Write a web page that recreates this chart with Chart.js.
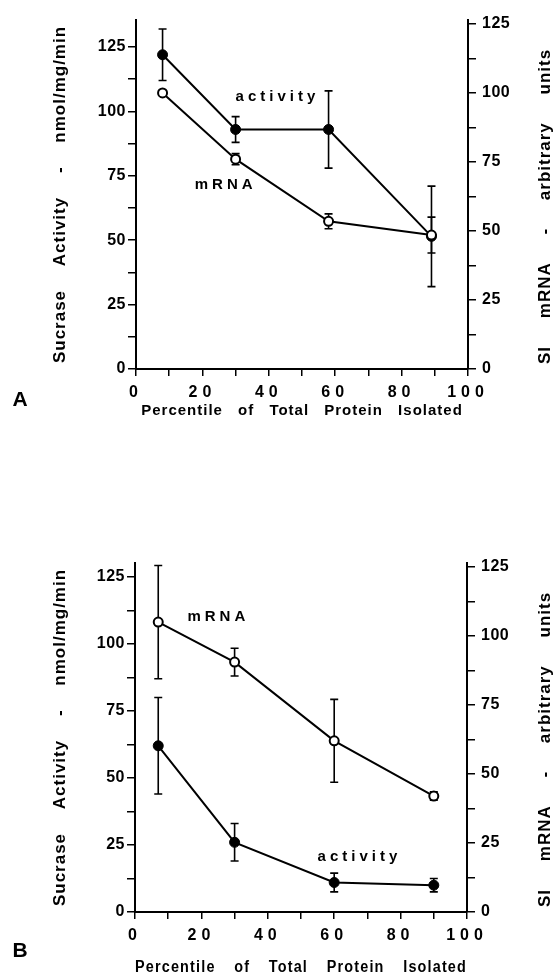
<!DOCTYPE html>
<html>
<head>
<meta charset="utf-8">
<script src="https://cdn.jsdelivr.net/npm/chart.js@4.4.1/dist/chart.umd.min.js"></script>
<style>
  html, body { margin: 0; padding: 0; background: #fff; }
  body { width: 558px; height: 979px; position: relative; overflow: hidden; }
  .panel { position: absolute; left: 0; width: 558px; }
  #panelA { top: 0; height: 440px; }
  #panelB { top: 490px; height: 489px; }
</style>
</head>
<body>
<div class="panel" id="panelA"><canvas id="chartA" width="558" height="440"></canvas></div>
<div class="panel" id="panelB"><canvas id="chartB" width="558" height="489"></canvas></div>
<script>
// Panel A values
const percentileA = [8, 30, 58, 89];
const activityA = [122, 93, 93, 51.5];
const activityErrA = [10, 5, 15, 19.5];
const mrnaA = [100, 76, 53.5, 48.5];
const mrnaErrA = [0, 2, 2.7, 6.5];

// Panel B values
const percentileB = [7, 30, 60, 90];
const activityB = [62, 26, 11, 10];
const activityErrB = [18, 7, 3.5, 2.5];
const mrnaB = [105, 90.5, 62, 42];
const mrnaErrB = [20.5, 5, 15, 1.5];

// tick labels (minor ticks between them are unlabeled)
const xTickLabels = [0, 20, 40, 60, 80, 100];
const yTickLabels = [0, 25, 50, 75, 100, 125];

const FONT = '"Liberation Sans", Arial, sans-serif';

// draw vertical error bars behind the points
const errorBars = {
  id: 'errorBars',
  beforeDatasetsDraw(chart) {
    const ctx = chart.ctx;
    ctx.save();
    ctx.strokeStyle = '#000';
    ctx.lineWidth = 1.6;
    chart.data.datasets.forEach(ds => {
      const xs = chart.scales.x, ys = chart.scales[ds.yAxisID];
      ds.data.forEach((p, j) => {
        const e = ds.errors[j];
        if (!e) return;
        const px = xs.getPixelForValue(p.x);
        const top = ys.getPixelForValue(p.y + e);
        const bot = ys.getPixelForValue(p.y - e);
        ctx.beginPath();
        ctx.moveTo(px, top); ctx.lineTo(px, bot);
        ctx.moveTo(px - 4, top); ctx.lineTo(px + 4, top);
        ctx.moveTo(px - 4, bot); ctx.lineTo(px + 4, bot);
        ctx.stroke();
      });
    });
    ctx.restore();
  }
};

// letter/word spacing for the scale texts (typewriter-ish look of the figure)
const spacing = {
  id: 'spacing',
  beforeDraw(chart, args, opts) {
    Object.values(chart.scales).forEach(scale => {
      const s = opts[scale.id];
      if (!s || scale._spaced) return;
      scale._spaced = true;
      const wrap = (name, ls, ws) => {
        const orig = scale[name];
        scale[name] = function (...a) {
          const ctx = this.ctx;
          ctx.save();
          ctx.letterSpacing = ls;
          ctx.wordSpacing = ws;
          orig.apply(this, a);
          ctx.restore();
        };
      };
      wrap('drawLabels', s.labels, '0px');
      wrap('drawTitle', s.title, s.word);
    });
  }
};

// series labels, right axis title and panel letter
const notes = {
  id: 'notes',
  afterDraw(chart, args, opts) {
    const ctx = chart.ctx;
    const y2 = chart.scales.y2;
    ctx.save();
    ctx.fillStyle = '#000';
    ctx.textAlign = 'center';
    ctx.textBaseline = 'middle';

    ctx.font = 'bold 15px ' + FONT;
    ctx.letterSpacing = '4px';
    opts.labels.forEach(l => {
      ctx.fillText(l.text, chart.scales.x.getPixelForValue(l.x) + 2, chart.scales.y.getPixelForValue(l.y));
    });

    ctx.save();
    ctx.font = 'bold 17px ' + FONT;
    ctx.letterSpacing = '1px';
    ctx.wordSpacing = '22px';
    const cy = (y2.getPixelForValue(0) + y2.getPixelForValue(125)) / 2 + 10;
    ctx.translate(545, cy);
    ctx.rotate(-Math.PI / 2);
    ctx.fillText('SI mRNA - arbitrary units', 0, 0);
    ctx.restore();

    ctx.letterSpacing = '0px';
    ctx.font = 'bold 21px ' + FONT;
    ctx.fillText(opts.letter, 20, opts.letterY);
    ctx.restore();
  }
};

function buildChart(id, cfg) {
  const toPoints = (xs, ys) => xs.map((x, i) => ({ x, y: ys[i] }));
  const keepMajor = s => { s.ticks = s.ticks.filter(t => t.value <= 125.01); };
  const yLabel = v => (yTickLabels.includes(v) ? String(v) : '');
  const axisGrid = len => ({ drawOnChartArea: false, drawTicks: true, tickLength: len, color: '#000', lineWidth: 1.5 });
  const axisBorder = { display: true, color: '#000', width: 2 };
  const tickFont = { family: FONT, size: 16, weight: 'bold' };

  return new Chart(document.getElementById(id), {
    type: 'line',
    data: {
      datasets: [
        {
          label: 'mRNA',
          data: toPoints(cfg.x, cfg.mrna),
          errors: cfg.mrnaErr,
          yAxisID: 'y2',
          order: 0,
          borderColor: '#000',
          borderWidth: 2,
          tension: 0,
          pointRadius: 4.5,
          pointBackgroundColor: '#fff',
          pointBorderColor: '#000',
          pointBorderWidth: 2
        },
        {
          label: 'activity',
          data: toPoints(cfg.x, cfg.activity),
          errors: cfg.activityErr,
          yAxisID: 'y',
          order: 1,
          borderColor: '#000',
          borderWidth: 2,
          tension: 0,
          pointRadius: 5,
          pointBackgroundColor: '#000',
          pointBorderColor: '#000',
          pointBorderWidth: 1
        }
      ]
    },
    options: {
      responsive: false,
      animation: false,
      devicePixelRatio: 1,
      layout: { padding: { top: cfg.area.top, left: 0, right: 0, bottom: 0 } },
      plugins: {
        legend: { display: false },
        tooltip: { enabled: false },
        spacing: {
          x: { labels: '5px', title: cfg.xTitle.ls, word: cfg.xTitle.ws },
          y: { labels: '0.5px', title: '1px', word: '18px' },
          y2: { labels: '0.5px', title: '0px', word: '0px' }
        },
        notes: { labels: cfg.notes, letter: cfg.letter, letterY: cfg.letterY }
      },
      scales: {
        x: {
          type: 'linear',
          min: 0,
          max: 100,
          afterFit: s => { s.height = cfg.height - cfg.area.bottom; },
          grid: axisGrid(7),
          border: axisBorder,
          ticks: {
            stepSize: 10,
            maxRotation: 0,
            autoSkip: false,
            padding: 7,
            color: '#000',
            font: tickFont,
            callback: v => (xTickLabels.includes(v) ? String(v) : '')
          },
          title: {
            display: true,
            text: 'Percentile of Total Protein Isolated',
            color: '#000',
            font: { family: FONT, size: cfg.xTitle.size, weight: 'bold' },
            padding: { top: 0, bottom: cfg.xTitle.pad }
          }
        },
        y: {
          position: 'left',
          min: 0,
          max: cfg.leftMax,
          afterFit: s => { s.width = cfg.area.left; },
          afterBuildTicks: keepMajor,
          grid: axisGrid(8),
          border: axisBorder,
          ticks: { stepSize: 12.5, includeBounds: false, autoSkip: false, padding: 2, color: '#000', font: tickFont, callback: yLabel },
          title: {
            display: true,
            text: 'Sucrase Activity - nmol/mg/min',
            color: '#000',
            font: { family: FONT, size: 17, weight: 'bold' },
            padding: { top: 50, bottom: 0 }
          }
        },
        y2: {
          position: 'right',
          min: 0,
          max: cfg.rightMax,
          afterFit: s => { s.width = 558 - cfg.area.right; },
          afterBuildTicks: keepMajor,
          grid: axisGrid(8),
          border: axisBorder,
          ticks: { stepSize: 12.5, includeBounds: false, autoSkip: false, padding: 6, color: '#000', font: tickFont, callback: yLabel }
        }
      }
    },
    plugins: [errorBars, spacing, notes]
  });
}

buildChart('chartA', {
  x: percentileA, activity: activityA, activityErr: activityErrA, mrna: mrnaA, mrnaErr: mrnaErrA,
  height: 440,
  area: { left: 136, right: 468, top: 20, bottom: 369 },
  leftMax: 135.5,
  rightMax: 126.4,
  xTitle: { size: 15, ls: '1px', ws: '10px', pad: 20 },
  notes: [{ text: 'activity', x: 42, y: 105.6 }, { text: 'mRNA', x: 26.4, y: 71.4 }],
  letter: 'A',
  letterY: 400
});

buildChart('chartB', {
  x: percentileB, activity: activityB, activityErr: activityErrB, mrna: mrnaB, mrnaErr: mrnaErrB,
  height: 489,
  area: { left: 135, right: 467, top: 73, bottom: 422 },
  leftMax: 130.2,
  rightMax: 126.4,
  xTitle: { size: 16, ls: '1.3px', ws: '15px', pad: 1.4 },
  notes: [{ text: 'mRNA', x: 24.5, y: 110 }, { text: 'activity', x: 67, y: 20.5 }],
  letter: 'B',
  letterY: 461
});
</script>
</body>
</html>
